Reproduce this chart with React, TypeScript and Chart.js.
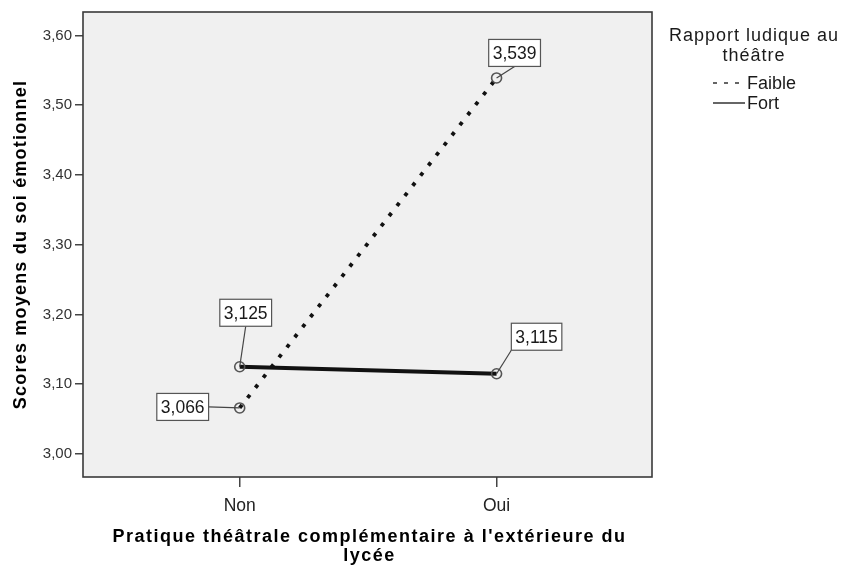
import React, { useEffect, useRef } from "react";
import { Chart, registerables } from "chart.js";

Chart.register(...registerables);

const categories = ["Non", "Oui"];
const seriesNames = ["Faible", "Fort"];
const faibleValues = [3.066, 3.539];
const fortValues = [3.125, 3.115];
const yTickValues = [3.0, 3.1, 3.2, 3.3, 3.4, 3.5, 3.6];
const yTitle = "Scores moyens du soi émotionnel";
const xTitle = ["Pratique théâtrale complémentaire à l'extérieure du", "lycée"];
const legendTitle = ["Rapport ludique au", "théâtre"];

const fmt = (v: number, d: number) => v.toFixed(d).replace(".", ",");

const FONT = "'Liberation Sans', Arial, sans-serif";

// label box placement relative to the point (styling only)
const labelStyle: Record<string, { dx: number; dy: number; ax: number; ay: number }[]> = {
  Faible: [
    { dx: -57, dy: -1, ax: 1, ay: 0.5 },
    { dx: 18, dy: -25, ax: 0.5, ay: 1 },
  ],
  Fort: [
    { dx: 6, dy: -54, ax: 0.5, ay: 1 },
    { dx: 40, dy: -37, ax: 0, ay: 1 },
  ],
};

const decorPlugin = {
  id: "decor",
  beforeDraw(chart: any) {
    const { ctx, chartArea: a } = chart;
    ctx.save();
    ctx.fillStyle = "#f0f0f0";
    ctx.fillRect(a.left, a.top, a.right - a.left, a.bottom - a.top);
    ctx.restore();
  },
  afterDatasetsDraw(chart: any) {
    const { ctx } = chart;
    ctx.save();
    ctx.font = `17.5px ${FONT}`;
    chart.data.datasets.forEach((ds: any, di: number) => {
      const meta = chart.getDatasetMeta(di);
      meta.data.forEach((pt: any, i: number) => {
        const st = labelStyle[ds.label][i];
        const text = fmt(ds.data[i].y, 3);
        const tw = ctx.measureText(text).width;
        const w = tw + 8;
        const h = 27;
        const cx = pt.x + st.dx;
        const cy = pt.y + st.dy;
        const bx = cx - w / 2;
        const by = cy - h / 2;
        ctx.strokeStyle = "#444";
        ctx.lineWidth = 1.2;
        ctx.beginPath();
        ctx.moveTo(pt.x, pt.y);
        ctx.lineTo(bx + st.ax * w, by + st.ay * h);
        ctx.stroke();
        ctx.fillStyle = "#ffffff";
        ctx.fillRect(bx, by, w, h);
        ctx.strokeStyle = "#555";
        ctx.lineWidth = 1.2;
        ctx.strokeRect(bx, by, w, h);
        ctx.fillStyle = "#1a1a1a";
        ctx.textAlign = "center";
        ctx.textBaseline = "middle";
        ctx.fillText(text, cx, cy + 1);
      });
    });
    ctx.restore();
  },
  afterDraw(chart: any) {
    const { ctx, chartArea: a } = chart;
    ctx.save();
    ctx.strokeStyle = "#3a3a3a";
    ctx.lineWidth = 1.6;
    ctx.strokeRect(a.left, a.top, a.right - a.left, a.bottom - a.top);

    ctx.fillStyle = "#000";
    ctx.font = `bold 18px ${FONT}`;
    ctx.textAlign = "center";
    ctx.textBaseline = "middle";
    (ctx as any).letterSpacing = "1.5px";
    const xc = (a.left + a.right) / 2 + 2;
    xTitle.forEach((line, i) => {
      ctx.fillText(line, xc, 537 + i * 19);
    });
    (ctx as any).letterSpacing = "1.2px";
    ctx.save();
    ctx.translate(21, (a.top + a.bottom) / 2);
    ctx.rotate(-Math.PI / 2);
    ctx.fillText(yTitle, 0, 0);
    ctx.restore();

    ctx.fillStyle = "#1a1a1a";
    ctx.font = `18px ${FONT}`;
    (ctx as any).letterSpacing = "1px";
    ctx.textAlign = "center";
    legendTitle.forEach((line, i) => {
      ctx.fillText(line, 754, 36 + i * 20);
    });
    (ctx as any).letterSpacing = "0px";
    ctx.textAlign = "left";
    chart.data.datasets.forEach((ds: any, i: number) => {
      const y = 83 + i * 20;
      ctx.strokeStyle = "#333";
      ctx.lineWidth = 1.5;
      ctx.setLineDash(ds.borderDash && ds.borderDash.length ? [4, 7] : []);
      ctx.beginPath();
      ctx.moveTo(713, y);
      ctx.lineTo(745, y);
      ctx.stroke();
      ctx.setLineDash([]);
      ctx.fillText(ds.label, 747, y + 1);
    });
    ctx.restore();
  },
};

export default function App() {
  const ref = useRef<HTMLCanvasElement | null>(null);
  useEffect(() => {
    if (!ref.current) return;
    const chart = new Chart(ref.current, {
      type: "line",
      data: {
        datasets: [
          {
            label: seriesNames[0],
            data: faibleValues.map((v, i) => ({ x: i, y: v })),
            borderColor: "#111",
            borderWidth: 3.8,
            borderDash: [3.8, 9],
            borderCapStyle: "butt",
            pointRadius: 5,
            pointBorderColor: "#555",
            pointBackgroundColor: "rgba(0,0,0,0)",
            pointBorderWidth: 1.6,
            tension: 0,
          },
          {
            label: seriesNames[1],
            data: fortValues.map((v, i) => ({ x: i, y: v })),
            borderColor: "#111",
            borderWidth: 4,
            pointRadius: 5,
            pointBorderColor: "#555",
            pointBackgroundColor: "rgba(0,0,0,0)",
            pointBorderWidth: 1.6,
            tension: 0,
          },
        ],
      },
      options: {
        responsive: false,
        animation: false,
        layout: { padding: { top: 10, right: 190, left: 0, bottom: 0 } },
        plugins: { legend: { display: false }, tooltip: { enabled: false } },
        scales: {
          x: {
            type: "linear",
            min: -0.61,
            max: 1.605,
            afterBuildTicks: (s: any) => {
              s.ticks = categories.map((_, i) => ({ value: i }));
            },
            afterFit: (s: any) => {
              s.height = 91;
            },
            ticks: {
              callback: (v: any) => categories[Math.round(Number(v))] ?? "",
              font: { family: FONT, size: 17.5 },
              color: "#222",
              padding: 9,
              maxRotation: 0,
              autoSkip: false,
            },
            grid: { drawOnChartArea: false, tickLength: 10, color: "#444", lineWidth: 1.5 },
            border: { display: false },
          },
          y: {
            type: "linear",
            min: 2.967,
            max: 3.6335,
            afterBuildTicks: (s: any) => {
              s.ticks = yTickValues.map((v) => ({ value: v }));
            },
            afterFit: (s: any) => {
              s.width = 83;
            },
            ticks: {
              callback: (v: any) => fmt(Number(v), 2),
              font: { family: FONT, size: 15 },
              color: "#333",
              padding: 3,
              autoSkip: false,
            },
            grid: { drawOnChartArea: false, tickLength: 8, color: "#444", lineWidth: 1.5 },
            border: { display: false },
          },
        },
      },
      plugins: [decorPlugin],
    } as any);
    return () => chart.destroy();
  }, []);
  return (
    <div style={{ position: "absolute", left: 0, top: 0, width: 842, height: 568, background: "#fff" }}>
      <canvas ref={ref} width={842} height={568} style={{ display: "block" }} />
    </div>
  );
}
